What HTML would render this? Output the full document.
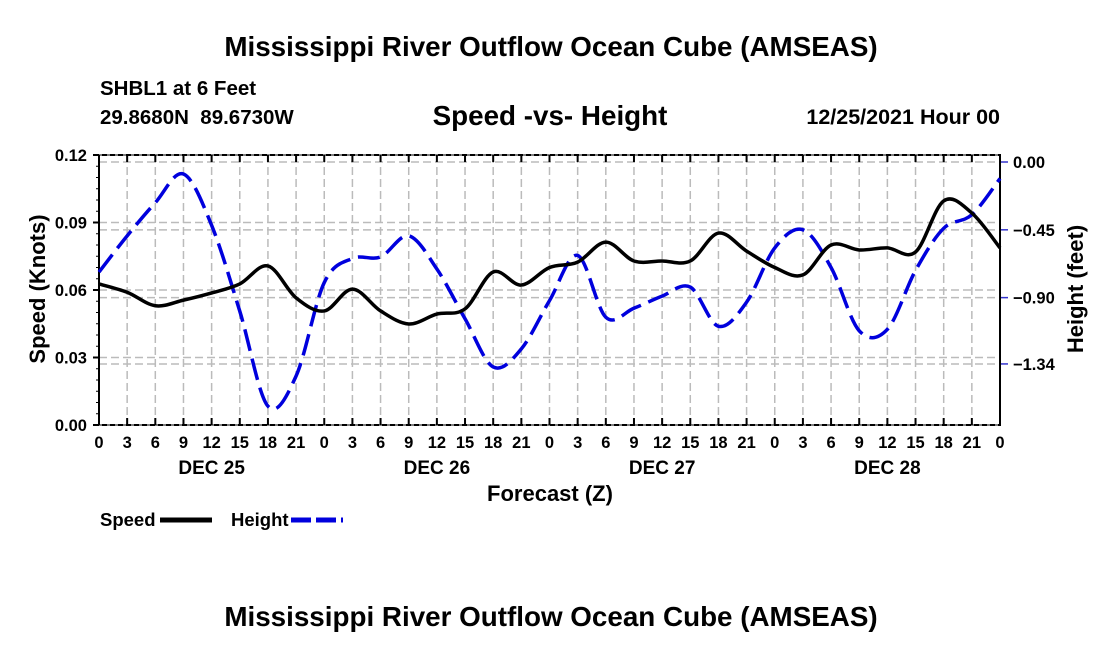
<!DOCTYPE html>
<html><head><meta charset="utf-8"><style>
body{margin:0;background:#fff;width:1100px;height:650px;overflow:hidden;font-family:"Liberation Sans",Arial,sans-serif}
</style></head><body>
<svg id="chart" width="1100" height="650" xmlns="http://www.w3.org/2000/svg" font-family="Liberation Sans, Arial, sans-serif" font-weight="bold">
<text x="551" y="56" text-anchor="middle" font-size="27.8">Mississippi River Outflow Ocean Cube (AMSEAS)</text>
<text x="100" y="95" font-size="20.5">SHBL1 at 6 Feet</text>
<text x="100" y="124" font-size="20.5">29.8680N&#160; 89.6730W</text>
<text x="550" y="125" text-anchor="middle" font-size="27.8">Speed -vs- Height</text>
<text x="1000" y="124" text-anchor="end" font-size="21.5">12/25/2021 Hour 00</text>
<g id="grid"></g><g id="axes"></g><g id="series"></g>
<text x="550" y="501" text-anchor="middle" font-size="22">Forecast (Z)</text>
<text transform="translate(45,289) rotate(-90)" text-anchor="middle" font-size="22">Speed (Knots)</text>
<text transform="translate(1083,289) rotate(-90)" text-anchor="middle" font-size="22">Height (feet)</text>
<g><text x="100" y="526" font-size="18.5">Speed</text><line x1="160" y1="520" x2="212" y2="520" stroke="#000" stroke-width="5"/></g>
<g><text x="231" y="526" font-size="18.5">Height</text><line x1="291" y1="520" x2="343" y2="520" stroke="#0000dd" stroke-width="5" stroke-dasharray="20,5"/></g>
<text x="551" y="626" text-anchor="middle" font-size="27.8">Mississippi River Outflow Ocean Cube (AMSEAS)</text>
</svg>
<script>
const hours=[0,3,6,9,12,15,18,21,24,27,30,33,36,39,42,45,48,51,54,57,60,63,66,69,72,75,78,81,84,87,90,93,96];
const speedValues=[0.0627,0.059,0.053,0.0555,0.0587,0.0627,0.0707,0.0565,0.0507,0.0604,0.0507,0.0449,0.0493,0.0516,0.068,0.0622,0.070,0.0724,0.0813,0.0729,0.0729,0.0729,0.0853,0.0773,0.070,0.0667,0.080,0.0778,0.0787,0.0769,0.0996,0.0942,0.0787];
const heightValues=[-0.73,-0.49,-0.27,-0.08,-0.42,-0.99,-1.62,-1.42,-0.80,-0.64,-0.63,-0.49,-0.71,-1.04,-1.36,-1.24,-0.92,-0.62,-1.03,-0.97,-0.89,-0.83,-1.09,-0.93,-0.57,-0.45,-0.70,-1.12,-1.11,-0.72,-0.44,-0.35,-0.11];
const speedTicks=[0,0.03,0.06,0.09,0.12];
const speedTickLabels=["0.00","0.03","0.06","0.09","0.12"];
const heightTicks=[0,-0.45,-0.90,-1.34];
const heightTickLabels=["0.00","\u22120.45","\u22120.90","\u22121.34"];
const dayLabels=["DEC 25","DEC 26","DEC 27","DEC 28"];
const NS="http://www.w3.org/2000/svg";
const L=99,R=1000,T=155,B=425;
const x=h=>L+(h/96)*(R-L);
const ys=v=>B-(v/0.12)*(B-T);
const yh=v=>162-v*150.7;
function mk(tag,attrs,parent){const e=document.createElementNS(NS,tag);for(const k in attrs)e.setAttribute(k,attrs[k]);parent.appendChild(e);return e;}
const grid=document.getElementById('grid'),axes=document.getElementById('axes'),series=document.getElementById('series');
for(let h=3;h<96;h+=3){const l=mk('line',{x1:x(h),x2:x(h),y1:T,y2:B,stroke:'#bbb','stroke-width':1.5,'stroke-dasharray':'8,4'},grid);

}
speedTicks.forEach((v,i)=>{if(i>0&&i<speedTicks.length-1){const l=mk('line',{x1:L,x2:R,y1:ys(v),y2:ys(v),stroke:'#bbb','stroke-width':1.5,'stroke-dasharray':'8,4'},grid);

}
const t=mk('text',{x:L-12,y:ys(v)+6,'text-anchor':'end','font-size':16.5},axes);t.textContent=speedTickLabels[i];


mk('line',{x1:L,x2:L-6,y1:ys(v),y2:ys(v),stroke:'#000','stroke-width':2},axes);});
for(let k=0;k<24;k++){const v=k*0.005;mk('line',{x1:L,x2:L-3,y1:ys(v),y2:ys(v),stroke:'#000','stroke-width':1},axes);}
heightTicks.forEach((v,i)=>{const l=mk('line',{x1:L,x2:R,y1:yh(v),y2:yh(v),stroke:'#bbb','stroke-width':1.5,'stroke-dasharray':'8,4'},grid);


mk('line',{x1:R,x2:R+8,y1:yh(v),y2:yh(v),stroke:'#33c','stroke-width':1.5},axes);
const t=mk('text',{x:R+13,y:yh(v)+6,'font-size':16.5},axes);t.textContent=heightTickLabels[i];

});
mk('rect',{x:L,y:T,width:R-L,height:B-T,fill:'none',stroke:'#000','stroke-width':2},axes);
mk('line',{x1:L,x2:R,y1:T,y2:T,stroke:'#fff','stroke-width':1,'stroke-dasharray':'3,5'},axes);
mk('line',{x1:L,x2:R,y1:B,y2:B,stroke:'#fff','stroke-width':1,'stroke-dasharray':'3,5'},axes);
for(let h=0;h<=96;h+=3){mk('line',{x1:x(h),x2:x(h),y1:B,y2:B-7,stroke:'#000','stroke-width':2},axes);mk('line',{x1:x(h),x2:x(h),y1:T,y2:T+7,stroke:'#000','stroke-width':2},axes);
const t=mk('text',{x:x(h),y:B+23,'text-anchor':'middle','font-size':16.5},axes);t.textContent=String(h%24);

}
dayLabels.forEach((d,i)=>{const t=mk('text',{x:x(12+24*i),y:B+49,'text-anchor':'middle','font-size':19},axes);t.textContent=d;

});
function smooth(pts){let d='M'+pts[0][0]+','+pts[0][1];for(let i=0;i<pts.length-1;i++){const p0=pts[i-1]||pts[i],p1=pts[i],p2=pts[i+1],p3=pts[i+2]||p2;
d+=` C${p1[0]+(p2[0]-p0[0])/6},${p1[1]+(p2[1]-p0[1])/6} ${p2[0]-(p3[0]-p1[0])/6},${p2[1]-(p3[1]-p1[1])/6} ${p2[0]},${p2[1]}`;}return d;}
const hp=mk('path',{d:smooth(hours.map((h,i)=>[x(h),yh(heightValues[i])])),fill:'none',stroke:'#0000dd','stroke-width':3.5,'stroke-dasharray':'22,8'},series);


const sp=mk('path',{d:smooth(hours.map((h,i)=>[x(h),ys(speedValues[i])])),fill:'none',stroke:'#000','stroke-width':3.5},series);


</script>
</body></html>
